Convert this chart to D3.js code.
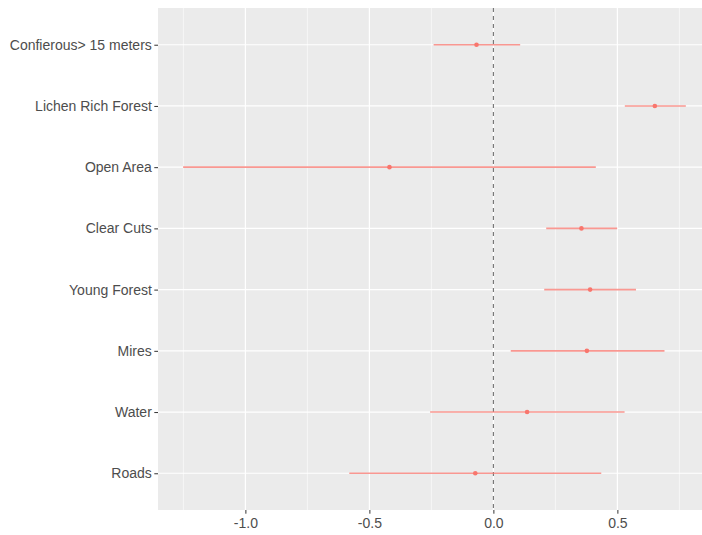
<!DOCTYPE html>
<html>
<head>
<meta charset="utf-8">
<script src="https://cdn.jsdelivr.net/npm/d3@7"></script>
<style>
  html, body { margin: 0; padding: 0; background: #fff; }
  svg { display: block; font-family: "Liberation Sans", Arial, sans-serif; }
  .tick text { fill: #4D4D4D; font-size: 14px; }
</style>
</head>
<body>
<div id="root"></div>
<script>
// ——— données
const categories = ["Confierous> 15 meters", "Lichen Rich Forest", "Open Area", "Clear Cuts",
                    "Young Forest", "Mires", "Water", "Roads"];
const estimates = [-0.068, 0.651, -0.419, 0.355, 0.390, 0.377, 0.136, -0.073];
const lower     = [-0.241, 0.530, -1.251, 0.213, 0.205, 0.070, -0.255, -0.581];
const upper     = [ 0.108, 0.776,  0.413, 0.499, 0.575, 0.690,  0.529,  0.435];
const xTicks    = [-1.0, -0.5, 0.0, 0.5];

const rows = categories.map((c, i) => ({ cat: c, est: estimates[i], lo: lower[i], hi: upper[i] }));

const width = 702, height = 535;
const margin = { top: 8, left: 158, bottom: 25 };
const pxPerUnit = 248;

const svg = d3.select("#root").append("svg")
  .attr("width", width).attr("height", height);

// échelle x : étendue des données + 5 % de chaque côté (comme ggplot)
const dMin = d3.min(lower), dMax = d3.max(upper);
const pad = (dMax - dMin) * 0.05;
const xDomain = [dMin - pad, dMax + pad];
const x = d3.scaleLinear()
  .domain(xDomain)
  .range([margin.left, margin.left + (xDomain[1] - xDomain[0]) * pxPerUnit]);

const panelBottom = height - margin.bottom;
const panelRight = x.range()[1];

// échelle y discrète, expansion 0.6
const y = d3.scalePoint()
  .domain(categories)
  .range([margin.top, panelBottom])
  .padding(0.6);

// fond du panneau
svg.append("rect")
  .attr("x", margin.left).attr("y", margin.top)
  .attr("width", panelRight - margin.left)
  .attr("height", panelBottom - margin.top)
  .attr("fill", "#EBEBEB");

// grille mineure
const minor = d3.range(-1.25, 1, 0.5);
svg.append("g").selectAll("line").data(minor).join("line")
  .attr("x1", d => x(d)).attr("x2", d => x(d))
  .attr("y1", margin.top).attr("y2", panelBottom)
  .attr("stroke", "#fff").attr("stroke-width", 0.6);

// grille majeure
svg.append("g").selectAll("line").data(xTicks).join("line")
  .attr("x1", d => x(d)).attr("x2", d => x(d))
  .attr("y1", margin.top).attr("y2", panelBottom)
  .attr("stroke", "#fff").attr("stroke-width", 1.2);

svg.append("g").selectAll("line").data(categories).join("line")
  .attr("x1", margin.left).attr("x2", panelRight)
  .attr("y1", d => y(d)).attr("y2", d => y(d))
  .attr("stroke", "#fff").attr("stroke-width", 1.2);

// ligne zéro en pointillés
svg.append("line")
  .attr("x1", x(0)).attr("x2", x(0))
  .attr("y1", margin.top).attr("y2", panelBottom)
  .attr("stroke", "#707070").attr("stroke-width", 1.1)
  .attr("stroke-dasharray", "4,4");

// intervalles
svg.append("g").selectAll("line").data(rows).join("line")
  .attr("x1", d => x(d.lo)).attr("x2", d => x(d.hi))
  .attr("y1", d => y(d.cat)).attr("y2", d => y(d.cat))
  .attr("stroke", "#F8766D").attr("stroke-opacity", 0.75).attr("stroke-width", 1.6);

// points
svg.append("g").selectAll("circle").data(rows).join("circle")
  .attr("cx", d => x(d.est)).attr("cy", d => y(d.cat))
  .attr("r", 2.3)
  .attr("fill", "#F8766D");

// axes
const fmt = d => d3.format(".1f")(d).replace("−", "-");
const xAxis = svg.append("g")
  .attr("transform", `translate(0,${panelBottom})`)
  .call(d3.axisBottom(x).tickValues(xTicks).tickFormat(fmt)
    .tickSize(3.7).tickPadding(4).tickSizeOuter(0));
xAxis.select(".domain").remove();
xAxis.selectAll(".tick line").attr("stroke", "#333");

const yAxis = svg.append("g")
  .attr("transform", `translate(${margin.left},0)`)
  .call(d3.axisLeft(y).tickSize(3.7).tickPadding(2.5).tickSizeOuter(0));
yAxis.select(".domain").remove();
yAxis.selectAll(".tick line").attr("stroke", "#333");
</script>
</body>
</html>
